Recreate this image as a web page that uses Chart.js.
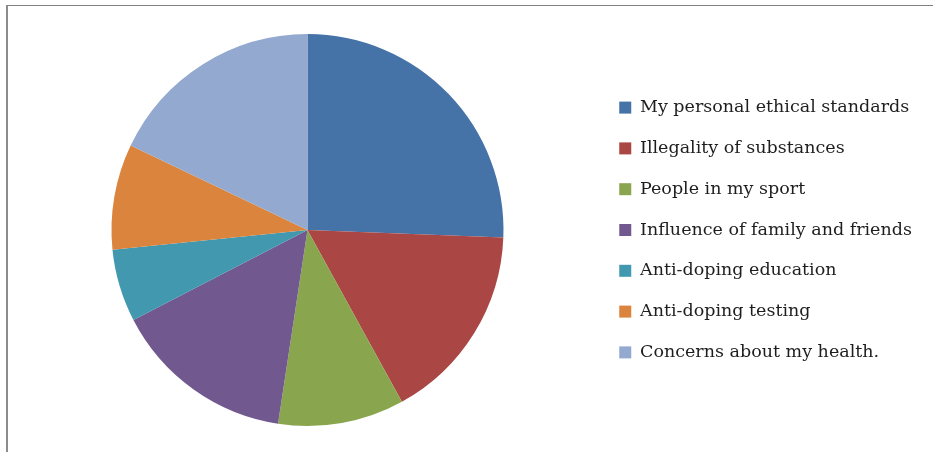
<!DOCTYPE html>
<html>
<head>
<meta charset="utf-8">
<script src="https://cdn.jsdelivr.net/npm/chart.js@4/dist/chart.umd.min.js"></script>
<style>
    html, body { margin: 0; padding: 0; background: #fff; overflow: hidden; }
    #wrap { position: relative; width: 933px; height: 452px; }
    #frame {
        position: absolute; left: 6px; top: 5px; right: -10px; bottom: -10px;
        border-top: 1px solid #7f7f7f; border-left: 2px solid #8c8c8c;
    }
    #pie { position: absolute; left: 0; top: 0; }
</style>
</head>
<body>
<div id="wrap">
    <div id="frame"></div>
    <canvas id="pie" width="933" height="452"></canvas>
</div>
<script>
    // reasons for not doping, share of answers (%)
    const labels = [
        'My personal ethical standards',
        'Illegality of substances',
        'People in my sport',
        'Influence of family and friends',
        'Anti-doping education',
        'Anti-doping testing',
        'Concerns about my health.'
    ];
    const shares = [25.6, 16.4, 10.4, 15.0, 6.0, 8.7, 17.9];
    const colors = ['#4572A7', '#AA4643', '#89A54E', '#71588F', '#4198AF', '#DB843D', '#93A9CF'];

    const legendFont = { family: "'DejaVu Serif', serif", size: 17.5 };

    // legend width depends on the longest label, so work out the right padding from it
    function rightPadding() {
        let ctx = document.createElement('canvas').getContext('2d');
        ctx.font = legendFont.size + 'px ' + legendFont.family;
        let maxW = 0;
        labels.forEach(function (l) { maxW = Math.max(maxW, ctx.measureText(l).width); });
        return 283 - maxW;
    }

    new Chart(document.getElementById('pie'), {
        type: 'pie',
        data: {
            labels: labels,
            datasets: [{
                data: shares,
                backgroundColor: colors,
                borderWidth: 0
            }]
        },
        options: {
            responsive: false,
            animation: false,
            layout: { padding: { left: 19, top: 34, bottom: 26, right: rightPadding() } },
            plugins: {
                legend: {
                    position: 'right',
                    labels: {
                        boxWidth: 12,
                        boxHeight: 12,
                        padding: 23.3,
                        color: '#1e1e1e',
                        font: legendFont
                    }
                },
                tooltip: { enabled: false }
            }
        }
    });
</script>
</body>
</html>
